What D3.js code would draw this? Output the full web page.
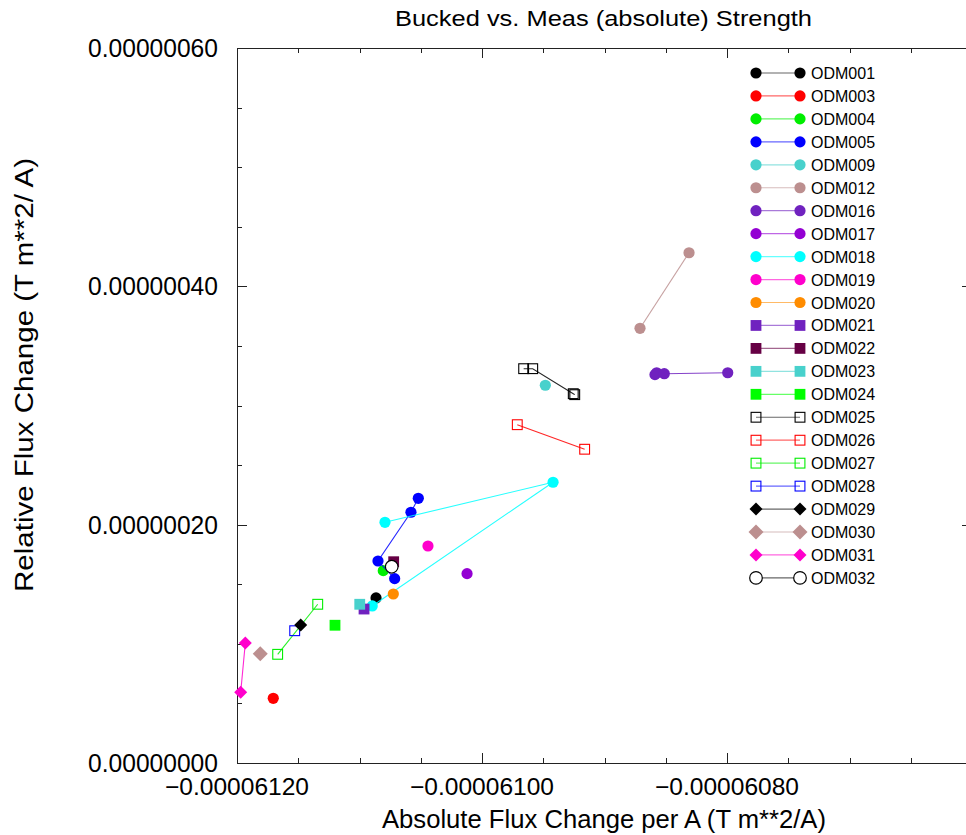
<!DOCTYPE html>
<html>
<head>
<meta charset="utf-8">
<script src="https://cdn.jsdelivr.net/npm/d3@7"></script>
<style>
  html, body { margin: 0; padding: 0; background: #fff; }
  svg { display: block; font-family: "Liberation Sans", Arial, sans-serif; }
</style>
</head>
<body>
<svg id="chart" width="966" height="835"></svg>
<script>
// ---------------- DATA ----------------
const seriesNames = ["ODM001","ODM003","ODM004","ODM005","ODM009","ODM012","ODM016","ODM017",
  "ODM018","ODM019","ODM020","ODM021","ODM022","ODM023","ODM024","ODM025","ODM026","ODM027",
  "ODM028","ODM029","ODM030","ODM031","ODM032"];

const seriesX = [
  [-6.10865e-5],
  [-6.11704e-5],
  [-6.10806e-5],
  [-6.10713e-5, -6.10849e-5, -6.10580e-5, -6.10520e-5],
  [-6.09483e-5],
  [-6.08710e-5, -6.08310e-5],
  [-6.08588e-5, -6.08574e-5, -6.08512e-5, -6.07994e-5],
  [-6.10122e-5],
  [-6.10896e-5, -6.09420e-5, -6.10792e-5],
  [-6.10441e-5],
  [-6.10724e-5],
  [-6.10963e-5],
  [-6.10721e-5],
  [-6.10998e-5],
  [-6.11200e-5],
  [-6.09660e-5, -6.09586e-5, -6.09255e-5, -6.09243e-5],
  [-6.09712e-5, -6.09162e-5],
  [-6.11668e-5, -6.11341e-5],
  [-6.11529e-5],
  [-6.11480e-5],
  [-6.11810e-5],
  [-6.11970e-5, -6.11932e-5],
  [-6.10737e-5]
];

const seriesY = [
  [1.385e-7],
  [5.43e-8],
  [1.614e-7],
  [1.547e-7, 1.695e-7, 2.104e-7, 2.221e-7],
  [3.170e-7],
  [3.648e-7, 4.282e-7],
  [3.259e-7, 3.275e-7, 3.267e-7, 3.275e-7],
  [1.589e-7],
  [1.318e-7, 2.356e-7, 2.020e-7],
  [1.821e-7],
  [1.418e-7],
  [1.292e-7],
  [1.689e-7],
  [1.332e-7],
  [1.156e-7],
  [3.309e-7, 3.309e-7, 3.099e-7, 3.091e-7],
  [2.839e-7, 2.633e-7],
  [9.12e-8, 1.332e-7],
  [1.110e-7],
  [1.158e-7],
  [9.17e-8],
  [5.93e-8, 1.007e-7],
  [1.647e-7]
];

const xMajorTicks = [-6.12e-5, -6.10e-5, -6.08e-5];
const yMajorTicks = [0, 2e-7, 4e-7, 6e-7];
const titleText = "Bucked vs. Meas (absolute) Strength";
const xTitleText = "Absolute Flux Change per A (T m**2/A)";
const yTitleText = "Relative Flux Change (T m**2/ A)";

// ---------------- STYLES ----------------
const styles = {
  ODM001: {c:"#000000", m:"circle"},
  ODM003: {c:"#ff0000", m:"circle"},
  ODM004: {c:"#00ee00", m:"circle"},
  ODM005: {c:"#0000ff", m:"circle"},
  ODM009: {c:"#48d1cc", m:"circle"},
  ODM012: {c:"#bc8f8f", m:"circle"},
  ODM016: {c:"#7022bf", m:"circle"},
  ODM017: {c:"#9400d3", m:"circle"},
  ODM018: {c:"#00ffff", m:"circle"},
  ODM019: {c:"#ff00cc", m:"circle"},
  ODM020: {c:"#ff8c00", m:"circle"},
  ODM021: {c:"#7022bf", m:"square"},
  ODM022: {c:"#660044", m:"square"},
  ODM023: {c:"#48d1cc", m:"square"},
  ODM024: {c:"#00ff00", m:"square"},
  ODM025: {c:"#000000", m:"osquare"},
  ODM026: {c:"#ff0000", m:"osquare"},
  ODM027: {c:"#00ee00", m:"osquare"},
  ODM028: {c:"#0000ff", m:"osquare"},
  ODM029: {c:"#000000", m:"diamond", s:6.5},
  ODM030: {c:"#bc8f8f", m:"diamond", s:7.5},
  ODM031: {c:"#ff00cc", m:"diamond", s:6.5},
  ODM032: {c:"#000000", m:"ocircle"}
};

// ---------------- CHART ----------------
const svg = d3.select("#chart");
const x = d3.scaleLinear().domain([-6.12e-5, -6.06e-5]).range([237, 972]);
const y = d3.scaleLinear().domain([0, 6e-7]).range([763, 48]);
const axisColor = "#222";

function minorTicks(domain, step) {
  const out = [];
  const n = Math.round((domain[1] - domain[0]) / step);
  for (let i = 0; i <= n; i++) out.push(domain[0] + i * step);
  return out;
}
const xAll = minorTicks(x.domain(), 5e-8);
const yAll = minorTicks(y.domain(), 5e-8);
const isMajor = (v, majors) => majors.some(m => Math.abs(m - v) < 1e-12);

// frame
const frame = svg.append("g").attr("shape-rendering", "crispEdges");
frame.append("rect")
  .attr("x", x.range()[0]).attr("y", y.range()[1])
  .attr("width", x.range()[1] - x.range()[0])
  .attr("height", y.range()[0] - y.range()[1])
  .attr("fill", "none").attr("stroke", axisColor).attr("stroke-width", 1);

const fmtX = d3.format(".8f");
const fmtY = d3.format(".8f");

function styleAxis(g) {
  g.select(".domain").remove();
  g.selectAll(".tick line").attr("stroke", axisColor).attr("shape-rendering", "crispEdges");
}

const xMajAll = xMajorTicks.concat([-6.06e-5]);
// bottom
svg.append("g").attr("transform", `translate(0,${y.range()[0]})`)
  .call(d3.axisBottom(x).tickValues(xAll).tickSizeInner(0).tickSizeOuter(0).tickFormat(""))
  .call(styleAxis)
  .call(g => g.selectAll(".tick line").attr("y2", d => isMajor(d, xMajAll) ? -10 : -5));
// top
svg.append("g").attr("transform", `translate(0,${y.range()[1]})`)
  .call(d3.axisTop(x).tickValues(xAll).tickSizeInner(0).tickSizeOuter(0).tickFormat(""))
  .call(styleAxis)
  .call(g => g.selectAll(".tick line").attr("y2", d => isMajor(d, xMajAll) ? 10 : 5));
// left
svg.append("g").attr("transform", `translate(${x.range()[0]},0)`)
  .call(d3.axisLeft(y).tickValues(yAll).tickSizeInner(0).tickSizeOuter(0).tickFormat(""))
  .call(styleAxis)
  .call(g => g.selectAll(".tick line").attr("x2", d => isMajor(d, yMajorTicks) ? 10 : 5));
// right
svg.append("g").attr("transform", `translate(${x.range()[1]},0)`)
  .call(d3.axisRight(y).tickValues(yAll).tickSizeInner(0).tickSizeOuter(0).tickFormat(""))
  .call(styleAxis)
  .call(g => g.selectAll(".tick line").attr("x2", d => isMajor(d, yMajorTicks) ? -10 : -5));

// tick labels
svg.append("g").selectAll("text").data(xMajorTicks).join("text")
  .attr("x", d => x(d)).attr("y", 795)
  .attr("text-anchor", "middle").attr("font-size", 24)
  .attr("textLength", 144).attr("lengthAdjust", "spacingAndGlyphs")
  .attr("fill", "#000")
  .text(d => fmtX(d));

svg.append("g").selectAll("text").data(yMajorTicks).join("text")
  .attr("x", 218).attr("y", d => y(d) + 9)
  .attr("text-anchor", "end").attr("font-size", 25)
  .attr("textLength", 130).attr("lengthAdjust", "spacingAndGlyphs")
  .attr("fill", "#000")
  .text(d => fmtY(d));

// titles
svg.append("text").attr("x", 603.5).attr("y", 26).attr("text-anchor", "middle")
  .attr("font-size", 22).attr("textLength", 417).attr("lengthAdjust", "spacingAndGlyphs")
  .text(titleText);
svg.append("text").attr("x", 604).attr("y", 828).attr("text-anchor", "middle")
  .attr("font-size", 25).attr("textLength", 444).attr("lengthAdjust", "spacingAndGlyphs")
  .text(xTitleText);
svg.append("text").attr("transform", "translate(33,375) rotate(-90)").attr("text-anchor", "middle")
  .attr("font-size", 25).attr("textLength", 434).attr("lengthAdjust", "spacingAndGlyphs")
  .text(yTitleText);

// markers
function drawMarker(g, st, px, py) {
  const c = st.c;
  if (st.m === "circle") {
    g.append("circle").attr("cx", px).attr("cy", py).attr("r", 5.6).attr("fill", c);
  } else if (st.m === "ocircle") {
    g.append("circle").attr("cx", px).attr("cy", py).attr("r", 6.3)
      .attr("fill", "#fff").attr("stroke", c).attr("stroke-width", 1.2);
  } else if (st.m === "square") {
    g.append("rect").attr("x", px - 5.4).attr("y", py - 5.4).attr("width", 10.8).attr("height", 10.8).attr("fill", c);
  } else if (st.m === "osquare") {
    g.append("rect").attr("x", px - 4.9).attr("y", py - 4.9).attr("width", 9.8).attr("height", 9.8)
      .attr("fill", "none").attr("stroke", c).attr("stroke-width", 1.1);
  } else if (st.m === "diamond") {
    const s = st.s;
    g.append("path").attr("d", `M${px},${py - s}L${px + s},${py}L${px},${py + s}L${px - s},${py}Z`).attr("fill", c);
  }
}

const line = d3.line().x(d => x(d[0])).y(d => y(d[1]));
const plot = svg.append("g");
seriesNames.forEach((name, i) => {
  const st = styles[name];
  const pts = seriesX[i].map((v, j) => [v, seriesY[i][j]]);
  const g = plot.append("g");
  if (pts.length > 1) {
    g.append("path").attr("d", line(pts)).attr("fill", "none")
      .attr("stroke", st.c).attr("stroke-width", 1.1).attr("stroke-opacity", 0.85);
  }
  pts.forEach(p => drawMarker(g, st, x(p[0]), y(p[1])));
});

// legend
const legend = svg.append("g");
const legY0 = 73, legStep = 22.95;
seriesNames.forEach((name, i) => {
  const st = styles[name];
  const ly = legY0 + i * legStep;
  const g = legend.append("g");
  g.append("line").attr("x1", 756).attr("x2", 800).attr("y1", ly).attr("y2", ly)
    .attr("stroke", st.c).attr("stroke-width", 1.2).attr("stroke-opacity", 0.6);
  drawMarker(g, st, 756, ly);
  drawMarker(g, st, 800, ly);
  g.append("text").attr("x", 811).attr("y", ly + 6).attr("font-size", 16).attr("fill", "#000").text(name);
});
</script>
</body>
</html>
